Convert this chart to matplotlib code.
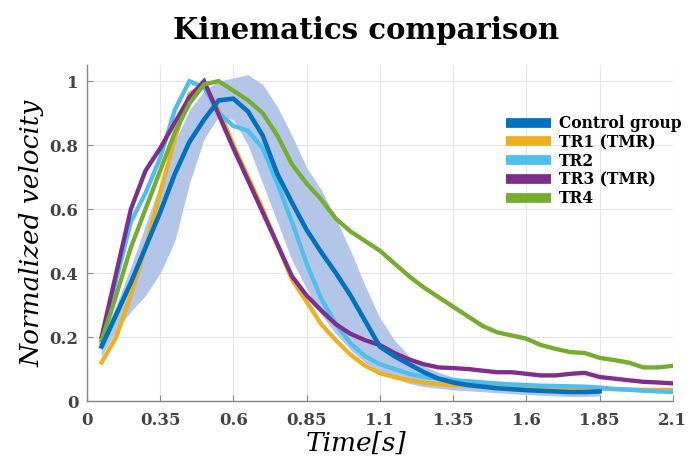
import numpy as np
import matplotlib
matplotlib.use('Agg')
import matplotlib.pyplot as plt

# --- Time base (s) ---
t = np.round(np.arange(0.15, 2.1001, 0.05), 2)
t_ctrl = t[:35]   # control group recorded up to 1.85 s

# --- Normalized velocity profiles ---
control = [0.17, 0.27, 0.37, 0.48, 0.59, 0.71, 0.81, 0.88, 0.94, 0.945,
           0.905, 0.83, 0.71, 0.62, 0.535, 0.465, 0.40, 0.33, 0.25, 0.17,
           0.14, 0.115, 0.09, 0.07, 0.058, 0.05, 0.045, 0.04, 0.037, 0.034,
           0.032, 0.03, 0.028, 0.028, 0.03]
control_upper = [0.20, 0.30, 0.42, 0.55, 0.68, 0.81, 0.91, 0.97, 1.0, 1.01,
                 1.02, 0.99, 0.92, 0.83, 0.73, 0.66, 0.57, 0.47, 0.36, 0.26,
                 0.19, 0.14, 0.11, 0.09, 0.075, 0.066, 0.06, 0.055, 0.052, 0.049,
                 0.047, 0.045, 0.043, 0.043, 0.045]
control_lower = [0.14, 0.22, 0.28, 0.33, 0.40, 0.50, 0.68, 0.82, 0.89, 0.88,
                 0.80, 0.68, 0.56, 0.44, 0.35, 0.27, 0.21, 0.16, 0.12, 0.09,
                 0.07, 0.055, 0.045, 0.04, 0.035, 0.032, 0.029, 0.026, 0.023, 0.02,
                 0.018, 0.016, 0.014, 0.014, 0.016]
tr1 = [0.12, 0.20, 0.33, 0.48, 0.65, 0.82, 0.96, 0.99, 0.91, 0.80,
       0.70, 0.60, 0.49, 0.38, 0.31, 0.24, 0.19, 0.145, 0.11, 0.087,
       0.075, 0.065, 0.058, 0.053, 0.05, 0.048, 0.046, 0.045, 0.044, 0.043,
       0.042, 0.041, 0.04, 0.04, 0.038, 0.037, 0.036, 0.035, 0.035, 0.035]
tr2 = [0.18, 0.38, 0.56, 0.65, 0.76, 0.91, 1.0, 0.98, 0.90, 0.86,
       0.845, 0.79, 0.68, 0.56, 0.43, 0.32, 0.24, 0.18, 0.14, 0.115,
       0.10, 0.085, 0.075, 0.07, 0.065, 0.062, 0.058, 0.055, 0.052, 0.05,
       0.048, 0.047, 0.046, 0.045, 0.042, 0.038, 0.035, 0.032, 0.03, 0.028]
tr3 = [0.20, 0.40, 0.60, 0.72, 0.79, 0.87, 0.95, 1.0, 0.895, 0.79,
       0.69, 0.59, 0.49, 0.39, 0.33, 0.283, 0.24, 0.21, 0.19, 0.175,
       0.15, 0.13, 0.115, 0.105, 0.103, 0.10, 0.095, 0.09, 0.09, 0.085,
       0.08, 0.08, 0.085, 0.088, 0.075, 0.07, 0.065, 0.06, 0.058, 0.055]
tr4 = [0.19, 0.33, 0.48, 0.60, 0.72, 0.84, 0.93, 0.99, 1.0, 0.97,
       0.94, 0.90, 0.83, 0.74, 0.68, 0.63, 0.57, 0.53, 0.50, 0.47,
       0.43, 0.39, 0.355, 0.325, 0.295, 0.265, 0.235, 0.215, 0.205, 0.195,
       0.175, 0.163, 0.153, 0.15, 0.135, 0.128, 0.12, 0.105, 0.105, 0.11]

labels = ['Control group', 'TR1 (TMR)', 'TR2', 'TR3 (TMR)', 'TR4']
colors = ['#0072BD', '#EDB120', '#4DBEEE', '#7E2F8E', '#77AC30']

x_ticks = [0.1, 0.35, 0.6, 0.85, 1.1, 1.35, 1.6, 1.85, 2.1]
x_tick_labels = ['0', '0.35', '0.6', '0.85', '1.1', '1.35', '1.6', '1.85', '2.1']
y_ticks = [0, 0.2, 0.4, 0.6, 0.8, 1]
y_tick_labels = ['0', '0.2', '0.4', '0.6', '0.8', '1']

SERIF = 'DejaVu Serif'

fig = plt.figure(figsize=(6.9, 4.62), dpi=100)
ax = fig.add_axes([0.126, 0.132, 0.849, 0.727])

# std band around the control group
ax.fill_between(t_ctrl, control_lower, control_upper, color='#B3C6E7', lw=0, zorder=1)

series = [(t, tr1), (t, tr2), (t, tr3), (t, tr4)]
for (x, y), c in zip(series, colors[1:]):
    ax.plot(x, y, color=c, lw=3.1, zorder=2, solid_joinstyle='miter')
ax.plot(t_ctrl, control, color=colors[0], lw=3.3, zorder=3, solid_joinstyle='miter')

ax.set_xlim(0.1, 2.1)
ax.set_ylim(0, 1.05)
ax.set_xticks(x_ticks)
ax.set_xticklabels(x_tick_labels)
ax.set_yticks(y_ticks)
ax.set_yticklabels(y_tick_labels)
ax.grid(True, color='#e6e6e6', lw=0.8)
ax.set_axisbelow(True)
for side in ['top', 'right']:
    ax.spines[side].set_visible(False)
for side in ['left', 'bottom']:
    ax.spines[side].set_color('#888888')
    ax.spines[side].set_linewidth(1.0)
ax.tick_params(direction='in', length=4, color='#888888', labelcolor='#444444')
ax.tick_params(axis='x', pad=8)
ax.tick_params(axis='y', pad=6)
for lab in ax.get_xticklabels() + ax.get_yticklabels():
    lab.set_family(SERIF)
    lab.set_weight('bold')
    lab.set_size(12)

ax.set_xlabel('Time[s]', family=SERIF, style='italic', size=19)
ax.xaxis.set_label_coords(0.459, -0.09)
ax.set_ylabel('Normalized velocity', family=SERIF, style='italic', size=19)
ax.yaxis.set_label_coords(-0.073, 0.5)
fig.text(0.531, 0.935, 'Kinematics comparison', family=SERIF, weight='bold',
         size=21, ha='center', va='center')

# legend with thick bar handles
handles = [plt.Line2D([], [], color=c, lw=7, solid_capstyle='butt') for c in colors]
leg = ax.legend(handles, labels, loc='upper left', bbox_to_anchor=(0.705, 0.87),
                frameon=False, handlelength=2.9, handletextpad=0.5,
                labelspacing=0.12, borderaxespad=0,
                prop={'family': SERIF, 'weight': 'bold', 'size': 11.2})

fig.savefig('out.png', dpi=100)
